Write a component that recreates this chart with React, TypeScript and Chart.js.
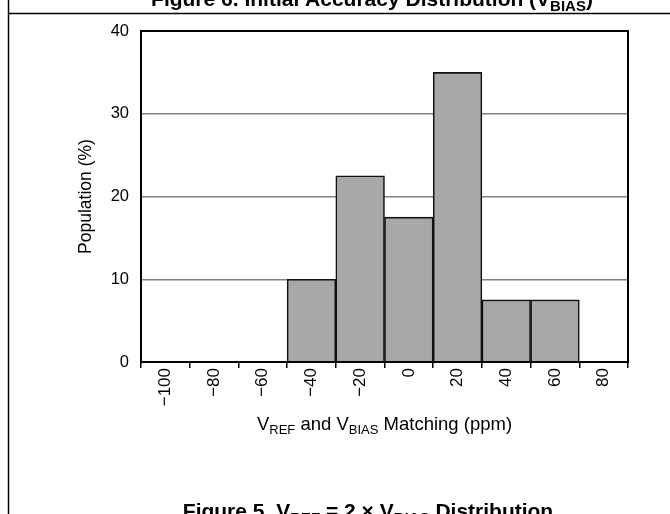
import React, { useEffect, useRef } from "react";
import { Chart, registerables } from "chart.js";

Chart.register(...registerables);

const categories = ["−100", "−80", "−60", "−40", "−20", "0", "20", "40", "60", "80"];
const population = [0, 0, 0, 10, 22.5, 17.5, 35, 7.5, 7.5, 0];
const yTickValues = [0, 10, 20, 30, 40];

type Seg = { t: string; sub?: boolean };

const topTitle: Seg[] = [
  { t: "Figure 6. Initial Accuracy Distribution (V" },
  { t: "BIAS", sub: true },
  { t: ")" },
];
const xTitle: Seg[] = [
  { t: "V" },
  { t: "REF", sub: true },
  { t: " and V" },
  { t: "BIAS", sub: true },
  { t: " Matching (ppm)" },
];
const bottomCaption: Seg[] = [
  { t: "Figure 5. V" },
  { t: "REF", sub: true },
  { t: " = 2 × V" },
  { t: "BIAS", sub: true },
  { t: " Distribution" },
];

const FONT = "'Liberation Sans', Arial, sans-serif";

function drawSegs(
  ctx: CanvasRenderingContext2D,
  segs: Seg[],
  cx: number,
  y: number,
  size: number,
  bold: boolean
) {
  const w = bold ? "bold " : "";
  const main = `${w}${size}px ${FONT}`;
  const sub = `${w}${Math.round(size * 0.7)}px ${FONT}`;
  let total = 0;
  for (const s of segs) {
    ctx.font = s.sub ? sub : main;
    total += ctx.measureText(s.t).width;
  }
  let x = cx - total / 2;
  ctx.textAlign = "left";
  ctx.textBaseline = "alphabetic";
  ctx.fillStyle = "#000";
  for (const s of segs) {
    ctx.font = s.sub ? sub : main;
    ctx.fillText(s.t, x, s.sub ? y + size * 0.22 : y);
    x += ctx.measureText(s.t).width;
  }
}

const framePlugin = {
  id: "frame",
  beforeDraw(chart: any) {
    const ctx = chart.ctx as CanvasRenderingContext2D;
    ctx.save();
    ctx.fillStyle = "#fff";
    ctx.fillRect(0, 0, chart.width, chart.height);
    ctx.strokeStyle = "#000";
    ctx.lineWidth = 1.5;
    ctx.beginPath();
    ctx.moveTo(8.5, 0);
    ctx.lineTo(8.5, chart.height);
    ctx.moveTo(8.5, 13.5);
    ctx.lineTo(chart.width, 13.5);
    ctx.stroke();
    ctx.restore();
  },
  afterDraw(chart: any) {
    const ctx = chart.ctx as CanvasRenderingContext2D;
    const a = chart.chartArea;
    ctx.save();
    ctx.strokeStyle = "#000";
    ctx.lineWidth = 2;
    ctx.strokeRect(a.left, a.top, a.right - a.left, a.bottom - a.top);
    const cx = (a.left + a.right) / 2;
    drawSegs(ctx, xTitle, cx, a.bottom + 68, 18.5, false);
    drawSegs(ctx, topTitle, 372, 6, 21, true);
    drawSegs(ctx, bottomCaption, 368, 518, 21, true);
    ctx.restore();
  },
};

export default function App() {
  const ref = useRef<HTMLCanvasElement | null>(null);
  useEffect(() => {
    document.body.style.margin = "0";
    const canvas = ref.current;
    if (!canvas) return;
    const chart = new Chart(canvas, {
      type: "bar",
      data: {
        labels: categories,
        datasets: [
          {
            data: population,
            backgroundColor: "#a8a8a8",
            borderColor: "#111",
            borderWidth: 1.6,
            barPercentage: 1,
            categoryPercentage: 1,
          },
        ],
      },
      options: {
        responsive: false,
        animation: false,
        layout: { padding: { left: 72, top: 31, right: 42, bottom: 92 } },
        plugins: {
          legend: { display: false },
          tooltip: { enabled: false },
          title: { display: false },
        },
        scales: {
          x: {
            type: "category",
            offset: true,
            afterFit(scale: any) {
              scale.height = 60;
            },
            grid: {
              offset: true,
              drawOnChartArea: false,
              drawTicks: true,
              tickLength: 6,
              color: "#000",
              lineWidth: 1.5,
            },
            border: { display: true, color: "#000", width: 2 },
            ticks: {
              minRotation: 90,
              maxRotation: 90,
              autoSkip: false,
              padding: 0,
              color: "#000",
              font: { family: FONT, size: 17 },
            },
          },
          y: {
            min: 0,
            max: 40,
            afterFit(scale: any) {
              scale.width = 69;
            },
            afterBuildTicks(scale: any) {
              scale.ticks = yTickValues.map((v) => ({ value: v }));
            },
            grid: { color: "#808080", lineWidth: 1.5, drawTicks: false },
            border: { display: true, color: "#000", width: 2 },
            ticks: {
              padding: 12,
              color: "#000",
              font: { family: FONT, size: 16.5 },
            },
            title: {
              display: true,
              text: "Population (%)",
              color: "#000",
              font: { family: FONT, size: 17.5 },
              padding: { top: 4, bottom: 4 },
            },
          },
        },
      },
      plugins: [framePlugin],
    });
    return () => chart.destroy();
  }, []);
  return (
    <div style={{ width: 670, height: 514 }}>
      <canvas ref={ref} width={670} height={514} style={{ display: "block" }} />
    </div>
  );
}
